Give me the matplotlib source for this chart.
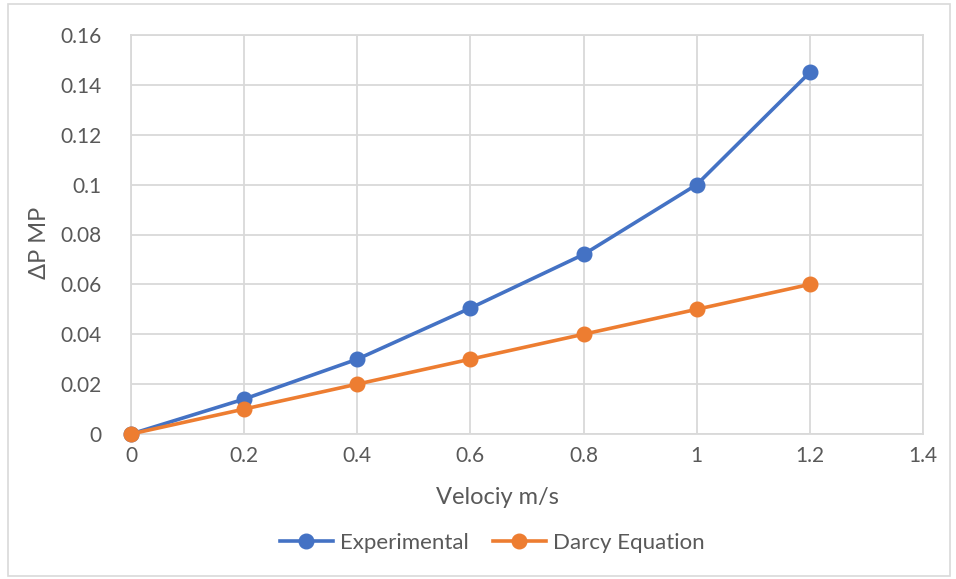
import matplotlib
matplotlib.use("Agg")
import matplotlib.pyplot as plt
from matplotlib.patches import Rectangle

velocity = [0, 0.2, 0.4, 0.6, 0.8, 1.0, 1.2]
experimental = [0, 0.014, 0.030, 0.0505, 0.072, 0.100, 0.145]
darcy = [0, 0.010, 0.020, 0.030, 0.040, 0.050, 0.060]
x_ticks = [0, 0.2, 0.4, 0.6, 0.8, 1.0, 1.2, 1.4]
y_ticks = [0, 0.02, 0.04, 0.06, 0.08, 0.10, 0.12, 0.14, 0.16]

plt.rcParams['font.family'] = ['Lato', 'DejaVu Sans']
text_color = '#595959'
grid_color = '#d9d9d9'

fig = plt.figure(figsize=(9.56, 5.79), dpi=100)
fig.patches.append(Rectangle((8 / 956, 3 / 579), 942 / 956, 572 / 579,
                             transform=fig.transFigure, fill=False,
                             edgecolor='#d9d9d9', linewidth=1.2))
ax = fig.add_axes([131 / 956, 1 - 434 / 579, 792 / 956, 399 / 579])

ax.plot(velocity, experimental, color='#4472C4', linewidth=2.6, marker='o',
        markersize=10.5, label='Experimental', zorder=3, clip_on=False)
ax.plot(velocity, darcy, color='#ED7D31', linewidth=2.6, marker='o',
        markersize=10.5, label='Darcy Equation', zorder=4, clip_on=False)

ax.set_xlim(0, 1.4)
ax.set_ylim(0, 0.16)
ax.set_xticks(x_ticks)
ax.set_yticks(y_ticks)
ax.set_xticklabels([f"{v:g}" for v in x_ticks])
ax.set_yticklabels([f"{v:g}" for v in y_ticks])
ax.grid(True, color=grid_color, linewidth=1.3)
ax.set_axisbelow(True)
for s in ax.spines.values():
    s.set_color(grid_color)
    s.set_linewidth(1.3)
ax.tick_params(length=0, labelsize=15, colors=text_color)
ax.tick_params(axis='x', pad=9)
ax.tick_params(axis='y', pad=21)

ax.set_xlabel('Velociy m/s', fontsize=17, color=text_color)
ax.xaxis.set_label_coords((497 - 131) / 792, -(497 - 434) / 399, transform=ax.transAxes)
ax.xaxis.label.set_va('center')
ax.set_ylabel('ΔP MP', fontsize=17, color=text_color)
ax.yaxis.set_label_coords(-(131 - 40) / 792, (434 - 243) / 399, transform=ax.transAxes)
ax.yaxis.label.set_va('center')

leg = fig.legend(loc='center', bbox_to_anchor=(492 / 956, 1 - 543 / 579), ncol=2,
                 frameon=False, fontsize=16, handlelength=2.4,
                 columnspacing=1.1, handletextpad=0.3)
for t in leg.get_texts():
    t.set_color(text_color)

fig.savefig('out.png', dpi=100)
